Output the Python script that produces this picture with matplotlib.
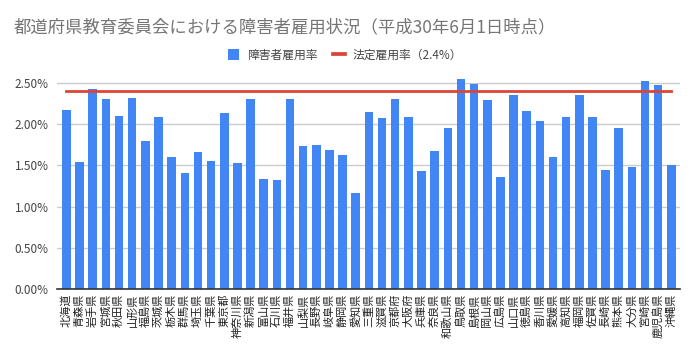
import matplotlib
matplotlib.use("Agg")
import matplotlib.pyplot as plt
from matplotlib.ticker import FuncFormatter
from matplotlib.lines import Line2D
from matplotlib.patches import Patch

plt.rcParams['font.family'] = ['Noto Sans CJK JP', 'DejaVu Sans']

prefectures = ["北海道", "青森県", "岩手県", "宮城県", "秋田県", "山形県", "福島県", "茨城県",
               "栃木県", "群馬県", "埼玉県", "千葉県", "東京都", "神奈川県", "新潟県", "富山県",
               "石川県", "福井県", "山梨県", "長野県", "岐阜県", "静岡県", "愛知県", "三重県",
               "滋賀県", "京都府", "大阪府", "兵庫県", "奈良県", "和歌山県", "鳥取県", "島根県",
               "岡山県", "広島県", "山口県", "徳島県", "香川県", "愛媛県", "高知県", "福岡県",
               "佐賀県", "長崎県", "熊本県", "大分県", "宮崎県", "鹿児島県", "沖縄県"]
rates = [2.17, 1.54, 2.42, 2.30, 2.10, 2.31, 1.80, 2.09,
         1.60, 1.41, 1.66, 1.55, 2.13, 1.53, 2.30, 1.34,
         1.32, 2.30, 1.73, 1.75, 1.68, 1.62, 1.17, 2.15,
         2.07, 2.30, 2.09, 1.43, 1.67, 1.95, 2.54, 2.48,
         2.29, 1.36, 2.35, 2.16, 2.04, 1.60, 2.09, 2.35,
         2.09, 1.44, 1.95, 1.48, 2.52, 2.47, 1.50]
legal_rate = 2.4
yticks = [0.0, 0.5, 1.0, 1.5, 2.0, 2.5]
title = "都道府県教育委員会における障害者雇用状況（平成30年6月1日時点）"
series_name = "障害者雇用率"
line_name = "法定雇用率（2.4%）"

blue = "#4285F4"
red = "#DB4437"

fig = plt.figure(figsize=(6.98, 3.60), dpi=100)
ax = fig.add_axes([57/698, 1 - 289.3/360, 623/698, (289.3 - 74.4)/360])

x = list(range(len(prefectures)))
ax.bar(x, rates, width=0.65, color=blue, zorder=3, clip_on=False)
ax.plot([x[0], x[-1]], [legal_rate, legal_rate], color=red, linewidth=2, zorder=4)

ax.set_xlim(-0.72, len(prefectures) - 1 + 0.66)
ax.set_ylim(0, 2.6)
ax.set_yticks(yticks)
ax.yaxis.set_major_formatter(FuncFormatter(lambda v, p: f"{v:.2f}%"))
ax.grid(axis='y', color='#cccccc', linewidth=1, zorder=0)
for s in ['top', 'right', 'left']:
    ax.spines[s].set_visible(False)
ax.spines['bottom'].set_color('#333333')
ax.spines['bottom'].set_linewidth(1.2)
ax.spines['bottom'].set_zorder(5)
ax.tick_params(axis='y', length=0, labelsize=8.5, labelcolor='#444444', pad=6)
ax.tick_params(axis='x', length=0, pad=3)
ax.set_xticks(x)
ax.set_xticklabels(prefectures, rotation=90, fontsize=8, color='#222222', va='top', ha='center')

fig.text(14/698, 1 - 27/360, title, fontsize=12.5, color='#757575', va='center', ha='left')

handles = [Patch(facecolor=blue, edgecolor='none'),
           Line2D([0], [0], color=red, linewidth=2.7)]
fig.legend(handles, [series_name, line_name], loc='center', bbox_to_anchor=(345/698, 1 - 55/360),
           ncol=2, frameon=False, fontsize=8.5, handlelength=1.0, handleheight=0.95,
           columnspacing=1.35, handletextpad=0.65, labelcolor='#444444')

fig.savefig("out.png", dpi=100)
